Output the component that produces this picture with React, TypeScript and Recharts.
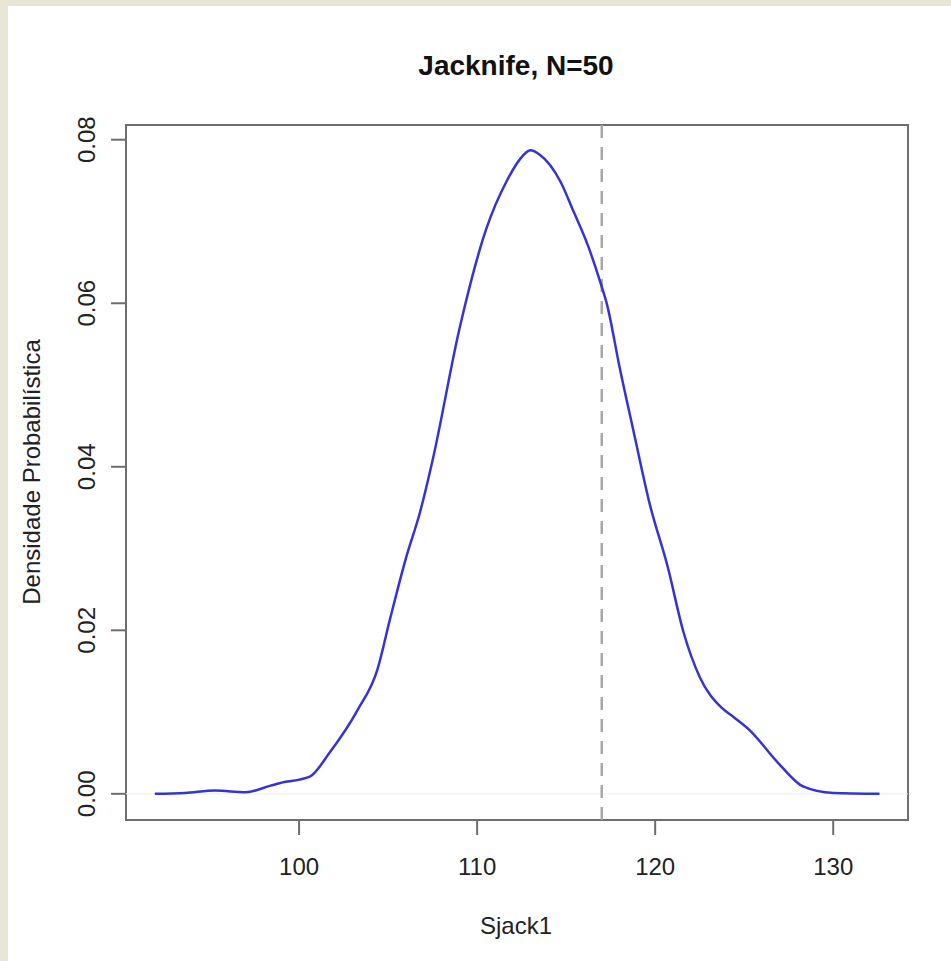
import { Label, Line, LineChart, ReferenceArea, ReferenceLine, XAxis, YAxis } from "recharts";

// density curve (Sjack1 vs density)
const xValues = [
  91.9, 93.6, 95.3, 97.0, 98.4, 98.9, 100.6, 101.7, 103.3, 104.4, 105.1, 106.0, 106.8, 107.5, 109.0, 110.5,
  111.7, 112.4, 113.0, 113.5, 114.7, 115.4, 116.2, 116.9, 117.3, 118.0, 118.8, 119.7, 120.7, 121.6, 122.5,
  123.7, 124.4, 125.3, 126.9, 128.3, 130.0, 132.6,
];
const densityValues = [
  0.0, 0.0001, 0.0004, 0.0002, 0.001, 0.0013, 0.0021, 0.005, 0.0103, 0.0152, 0.0213, 0.0288, 0.0345, 0.0408,
  0.0568, 0.069, 0.0751, 0.0776, 0.0787, 0.0782, 0.0748, 0.0713, 0.0672, 0.0627, 0.0598, 0.0522, 0.0442,
  0.0354, 0.0278, 0.0197, 0.0143, 0.0106, 0.0094, 0.0078, 0.0038, 0.0009, 0.0001, 0.0,
];
const xTicks = [100, 110, 120, 130];
const yTicks = [0, 0.02, 0.04, 0.06, 0.08];
const markerX = 117;

const X_DOMAIN: [number, number] = [90.28, 134.2];
const Y_DOMAIN: [number, number] = [-0.0032, 0.0818];

const FONT = "'Liberation Sans', Arial, Helvetica, sans-serif";
const AXIS_GREY = "#6e6e6e";

const data = xValues.map((x, i) => ({ x, density: densityValues[i] }));

const YTick = ({ x, y, payload }: any) => (
  <text
    x={x}
    y={y}
    transform={`rotate(-90 ${x} ${y})`}
    textAnchor="middle"
    fontSize={24}
    fontFamily={FONT}
    fill="#222"
  >
    {Number(payload.value).toFixed(2)}
  </text>
);

export default function App() {
  return (
    <div style={{ position: "fixed", left: 0, top: 0, width: 951, height: 961, background: "#e8e6d4" }}>
      <div style={{ position: "absolute", left: 8, top: 6, width: 943, height: 955, background: "#ffffff" }}>
        <LineChart width={943} height={955} data={data} margin={{ top: 119, right: 43, left: 58, bottom: 81 }}>
          <XAxis
            dataKey="x"
            type="number"
            domain={X_DOMAIN}
            ticks={xTicks}
            allowDataOverflow
            axisLine={false}
            tickSize={15}
            tickMargin={23}
            height={60}
            tickLine={{ stroke: AXIS_GREY, strokeWidth: 2 }}
            tick={{ fontSize: 24, fontFamily: FONT, fill: "#222" }}
          >
            <Label
              content={() => (
                <text x={508} y={928} textAnchor="middle" fontSize={24} fontFamily={FONT} fill="#222">
                  Sjack1
                </text>
              )}
            />
          </XAxis>
          <YAxis
            type="number"
            domain={Y_DOMAIN}
            ticks={yTicks}
            allowDataOverflow
            axisLine={false}
            width={60}
            tickSize={15}
            tickMargin={16}
            tickLine={{ stroke: AXIS_GREY, strokeWidth: 2 }}
            tick={<YTick />}
          >
            <Label
              content={() => (
                <text
                  x={32}
                  y={466}
                  transform="rotate(-90 32 466)"
                  textAnchor="middle"
                  fontSize={24}
                  fontFamily={FONT}
                  fill="#222"
                >
                  Densidade Probabilística
                </text>
              )}
            />
          </YAxis>
          <ReferenceArea
            x1={X_DOMAIN[0]}
            x2={X_DOMAIN[1]}
            y1={Y_DOMAIN[0]}
            y2={Y_DOMAIN[1]}
            fill="none"
            stroke={AXIS_GREY}
            strokeWidth={2}
            label={() => (
              <text x={508} y={69} textAnchor="middle" fontSize={28} fontWeight="bold" fontFamily={FONT} fill="#111">
                Jacknife, N=50
              </text>
            )}
          />
          <ReferenceLine y={0} stroke="#eeeeee" strokeWidth={1} />
          <ReferenceLine x={markerX} stroke="#a8a8a8" strokeWidth={2.5} strokeDasharray="13 9" />
          <Line
            type="monotone"
            dataKey="density"
            stroke="#3434d6"
            strokeWidth={2.5}
            dot={false}
            isAnimationActive={false}
          />
        </LineChart>
      </div>
    </div>
  );
}
